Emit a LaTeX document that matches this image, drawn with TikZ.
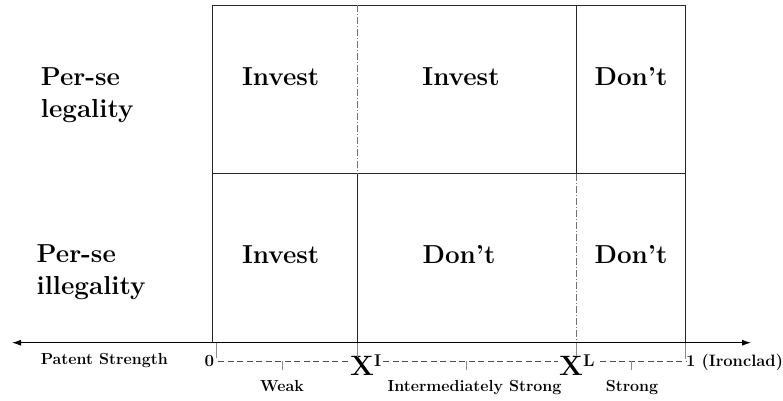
\documentclass[tikz,border=0pt]{standalone}
\usetikzlibrary{arrows.meta}
\tikzset{
  big/.style={font=\fontsize{26}{30}\selectfont\bfseries, inner sep=0pt},
  small/.style={font=\fontsize{16}{19}\selectfont\bfseries, inner sep=0pt},
  gridline/.style={draw=black!85, line width=0.9pt},
  dashdotline/.style={draw=black!55, line width=0.9pt, dash pattern=on 7pt off 2pt on 1pt off 2pt},
  faint/.style={draw=black!45, line width=0.7pt},
  scaleline/.style={draw=black!70, line width=0.7pt, dash pattern=on 6pt off 3.5pt},
}
\begin{document}
\begin{tikzpicture}[x=1pt,y=-1pt]
\useasboundingbox (0,0) rectangle (783,400);
% grid corners
\coordinate (tl) at (212.3,5);
\coordinate (tr) at (685.7,5);
\coordinate (ml) at (212.3,173.7);
\coordinate (mr) at (685.7,173.7);
\coordinate (bl) at (212.3,342.7);
\coordinate (br) at (685.7,342.7);
\coordinate (xit) at (357.5,5);
\coordinate (xim) at (357.5,173.7);
\coordinate (xib) at (357.5,342.7);
\coordinate (xlt) at (576.5,5);
\coordinate (xlm) at (576.5,173.7);
\coordinate (xlb) at (576.5,342.7);
\coordinate (axl) at (12,342.7);
\coordinate (axr) at (751,342.7);
% grid
\draw[gridline] (tl) -- (tr) -- (br) -- (bl) -- cycle;
\draw[gridline] (ml) -- (mr);
\draw[dashdotline] (xit) -- (xim);
\draw[gridline] (xlt) -- (xlm);
\draw[gridline] (xim) -- (xib);
\draw[dashdotline] (xlm) -- (xlb);
% axis
\draw[draw=black, line width=0.9pt, {Latex[length=9pt,width=6pt]}-{Latex[length=9pt,width=6pt]}] (axl) -- (axr);
% cell labels
\node[big, anchor=base] (c11) at (280.7,85.7) {Invest};
\node[big, anchor=base] (c12) at (461,85.7) {Invest};
\node[big, anchor=base] (c13) at (631,85.7) {Don't};
\node[big, anchor=base] (c21) at (280.7,263.3) {Invest};
\node[big, anchor=base] (c22) at (459,263.3) {Don't};
\node[big, anchor=base] (c23) at (631,263.3) {Don't};
% row labels
\node[big, anchor=base west] (r1a) at (40.7,85.7) {Per-se};
\node[big, anchor=base west] (r1b) at (40.7,117) {legality};
\node[big, anchor=base west] (r2a) at (36.5,262.7) {Per-se};
\node[big, anchor=base west] (r2b) at (36.5,294) {illegality};
% axis labels
\node[small, anchor=base west] (ps) at (40.7,364.5) {Patent Strength};
\node[small, font=\fontsize{17}{20}\selectfont\bfseries, anchor=base west] (zero) at (204.5,366) {0};
\node[big, font=\fontsize{28}{30}\selectfont\bfseries, anchor=base west] (xi) at (350,375) {X\raisebox{8.5pt}{\fontsize{17}{17}\selectfont I}};
\node[big, font=\fontsize{28}{30}\selectfont\bfseries, anchor=base west] (xl) at (559,375) {X\raisebox{8.5pt}{\fontsize{17}{17}\selectfont L}};
\node[small, font=\fontsize{16.5}{19}\selectfont\bfseries, anchor=base west] (one) at (686,366) {1 (Ironclad)};
\node[small, anchor=base] (weak) at (282,391.7) {Weak};
\node[small, anchor=base] (inter) at (474.5,391.7) {Intermediately Strong};
\node[small, anchor=base] (strong) at (632,391.7) {Strong};
% scale dashed line
\coordinate (d0) at (218,361);
\coordinate (d1) at (349,361);
\coordinate (d2) at (383,361);
\coordinate (d3) at (558,361);
\coordinate (d4) at (600,361);
\coordinate (d5) at (686,361);
\draw[scaleline] (d0) -- (d1);
\draw[scaleline] (d2) -- (d3);
\draw[scaleline] (d4) -- (d5);
% brace marks
\coordinate (mw) at (282,361);
\coordinate (mi) at (466,361);
\coordinate (ms) at (631,361);
\draw[faint] (mw) -- ++(0,9);
\draw[faint] (mi) -- ++(0,9);
\draw[faint] (ms) -- ++(0,9);
% faint ticks below axis
\draw[faint] (216,342.7) -- (216,358);
\draw[faint] (xib) -- ++(0,14);
\draw[faint] (xlb) -- ++(0,13);
\draw[faint] (br) -- ++(0,16);
\end{tikzpicture}
\end{document}
